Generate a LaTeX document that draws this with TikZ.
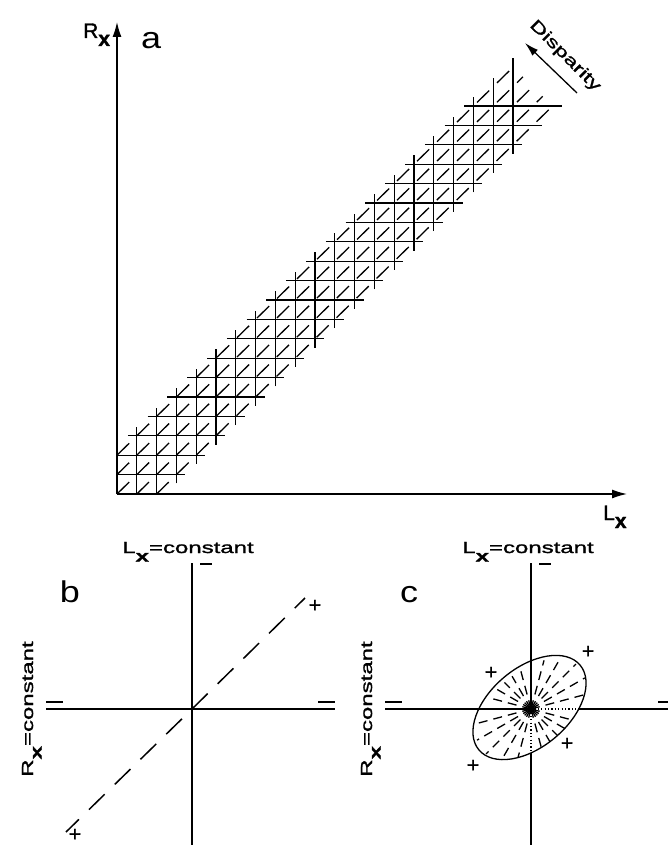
\documentclass[tikz,border=0pt]{standalone}
\usepackage{fontspec}
\setmainfont{Liberation Sans}[FakeBold=1.5]
\newfontfamily\widefont[FakeStretch=1.5,FakeBold=1.5]{Liberation Sans}
\newfontfamily\letterfont[FakeStretch=1.2]{Liberation Sans}
\usetikzlibrary{arrows.meta}
\begin{document}
\begin{tikzpicture}[x=1pt,y=-1pt,
  gridline/.style={line width=1.3pt},
  diagline/.style={line width=1.3pt, dash pattern=on 17pt off 11pt},
  thinaxis/.style={line width=1.3pt, -{Latex[length=15pt,width=9pt]}},
  heavyaxis/.style={line width=2.4pt},
  signmark/.style={line width=2pt},
  dotline/.style={line width=1.6pt, dash pattern=on 1.2pt off 2.2pt},
  raydash/.style={line width=1.3pt, dash pattern=on 9pt off 6pt},
  bdash/.style={line width=1.5pt, dash pattern=on 22pt off 14pt},
  widelab/.style={inner sep=0pt, font=\widefont\fontsize{16}{18}\selectfont},
  axlab/.style={inner sep=0pt, font=\fontsize{21}{24}\selectfont},
  panellab/.style={inner sep=0pt, font=\letterfont\fontsize{30}{32}\selectfont},
  plussign/.style={inner sep=0pt, font=\fontsize{21}{21}\selectfont}
]
\useasboundingbox[fill=white] (0,0) rectangle (668,845);

% ---------- panel a ----------
\begin{scope}[shift={(117,494)}, x=19.8pt, y=19.4pt]
  \foreach \gi in {1,...,20}{
    \pgfmathsetmacro\jlo{max(0,\gi-2.45)}
    \pgfmathsetmacro\jhi{\gi+2.45}
    \draw[gridline] (\gi,\jlo) -- (\gi,\jhi);
    \draw[gridline] (\jlo,\gi) -- (\jhi,\gi);
  }
  \foreach \dk/\ds/\de in {0/0/21,1/0/20.5,2/0/20,-1/1/21.5,-2/2/22}{
    \pgfmathsetmacro\sj{\ds+\dk}
    \pgfmathsetmacro\ej{\de+\dk}
    \draw[diagline] (\ds,\sj) -- (\de,\ej);
  }
\end{scope}
\coordinate (aO) at (117,494);
\coordinate (aY) at (117,22);
\coordinate (aX) at (627,494);
\draw[thinaxis] (aO) -- (aY);
\draw[thinaxis] (aO) -- (aX);
\node[axlab, anchor=base west] (rxlab) at (83,38) {R\raisebox{-8pt}{\bfseries x}};
\node[axlab, anchor=base west] (lxlab) at (603,520) {L\raisebox{-8pt}{\bfseries x}};
\node[panellab, anchor=base west] (alab) at (141,49) {a};

\coordinate (dA) at (577,93);
\coordinate (dB) at (525,43);
\draw[line width=1.3pt, -{Latex[length=14pt,width=8pt]}] (dA) -- (dB);
\node[widelab, rotate=-45] (disp) at (565,56) {Disparity};

% ---------- panel b ----------
\coordinate (bO) at (192,709);
\coordinate (bT) at (192,563);
\coordinate (bB) at (192,845);
\coordinate (bL) at (46,709);
\coordinate (bR) at (335,709);
\draw[heavyaxis] (bT) -- (bB);
\draw[heavyaxis] (bL) -- (bR);
\draw[signmark] (200,564) -- (212,564);
\draw[signmark] (46,702) -- (63,702);
\draw[signmark] (318,702) -- (335,702);
\coordinate (bU) at (305,598);
\coordinate (bD) at (66,832);
\draw[bdash] (bO) -- (bU);
\draw[bdash, dash phase=22pt] (bO) -- (bD);
\node[plussign] (bp1) at (315,606) {+};
\node[plussign] (bp2) at (75,835) {+};
\node[widelab, anchor=base] (blx) at (188,553) {L\raisebox{-8.5pt}{\bfseries x}=constant};
\node[widelab, anchor=base, rotate=90] (bry) at (33,709) {R\raisebox{-8.5pt}{\bfseries x}=constant};
\node[panellab, anchor=base] (blab) at (70,602) {b};

% ---------- panel c ----------
\coordinate (cO) at (531,709);
\coordinate (cE) at (529.5,707.5);
\coordinate (cT) at (531,563);
\coordinate (cB) at (531,845);
\coordinate (cL) at (385,709);
\coordinate (cR) at (668,709);
\coordinate (cRe) at (578,709);
\coordinate (cBe) at (531,753.5);
\draw[heavyaxis] (cT) -- (cO);
\draw[heavyaxis] (cBe) -- (cB);
\draw[heavyaxis] (cL) -- (cO);
\draw[heavyaxis] (cRe) -- (cR);
\draw[dotline] (cO) -- (cRe);
\draw[dotline] (cO) -- (cBe);
\draw[signmark] (539,564) -- (551,564);
\draw[signmark] (385,702) -- (402,702);
\draw[signmark] (658,702) -- (668,702);
\draw[line width=1.3pt, rotate around={40:(cE)}] (cE) ellipse [x radius=66pt, y radius=39.5pt];
\foreach \ang in {15,30,45,60,75,105,120,135,150,165,195,210,225,240,255,285,300,315,330,345}{
  \pgfmathsetmacro\rr{66*39.5/sqrt((39.5*cos(\ang-40))^2+(66*sin(\ang-40))^2)-2}
  \draw[raydash] (cO) -- ++(\ang:\rr pt);
}
\node[plussign] (cp1) at (588,652) {+};
\node[plussign] (cp2) at (491,673) {+};
\node[plussign] (cp3) at (567,744) {+};
\node[plussign] (cp4) at (473,766) {+};
\node[widelab, anchor=base] (clx) at (528,553) {L\raisebox{-8.5pt}{\bfseries x}=constant};
\node[widelab, anchor=base, rotate=90] (cry) at (372,709) {R\raisebox{-8.5pt}{\bfseries x}=constant};
\node[panellab, anchor=base] (clab) at (409,602) {c};
\end{tikzpicture}
\end{document}
